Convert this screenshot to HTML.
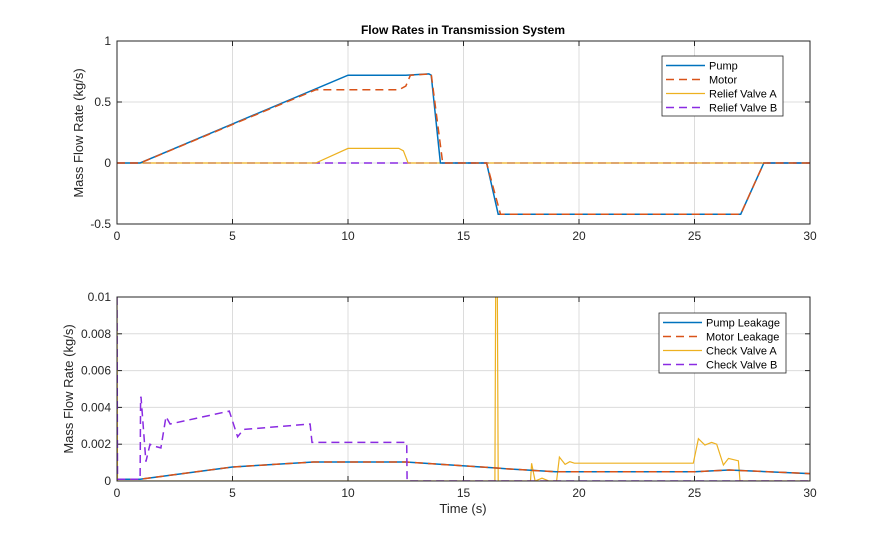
<!DOCTYPE html>
<html><head><meta charset="utf-8">
<style>
body{margin:0;background:#fff;font-family:"Liberation Sans",Arial,sans-serif;}
svg{display:block}
text{font-family:"Liberation Sans",Arial,sans-serif;}
</style></head>
<body>
<svg id="chart" width="895" height="540"></svg>
<script>
// ---- top chart data ----
const pumpT=[0,1,10,12.5,13.5,13.6,14,16,16.5,27,28,30];
const pumpV=[0,0,0.72,0.72,0.73,0.72,0,0,-0.42,-0.42,0,0];
const motorT=[0,1,8.6,12.2,12.5,12.7,13.6,14.1,16,16.6,27,28,30];
const motorV=[0,0,0.6,0.6,0.63,0.72,0.73,0,0,-0.42,-0.42,0,0];
const reliefAT=[0,8.6,10,12.2,12.4,12.6,30];
const reliefAV=[0,0,0.12,0.12,0.1,0,0];
const reliefBT=[0,30];
const reliefBV=[0,0];
const topXTicks=[0,5,10,15,20,25,30];
const topYTicks=[-0.5,0,0.5,1];
const topYLabels=["-0.5","0","0.5","1"];
// ---- bottom chart data ----
const leakT=[0,1,5,8.5,12.5,16.5,17,19,25,26.5,30];
const pumpLeakV=[0.0001,0.0001,0.00076,0.00103,0.00103,0.0007,0.00065,0.0005,0.0005,0.0006,0.0004];
const motorLeakV=[0.0001,0.0001,0.00076,0.00103,0.00103,0.0007,0.00065,0.0005,0.0005,0.0006,0.0004];
const checkAT=[0,0.02,16.36,16.4,16.46,16.5,17.9,17.95,18.1,18.4,18.7,19.03,19.15,19.4,19.6,19.8,24.95,25.17,25.45,25.74,25.96,26.25,26.47,26.9,26.97,30];
const checkAV=[0.01,0,0,0.012,0.012,0,0,0.00096,0,0.00015,0,0,0.0013,0.0009,0.00105,0.00097,0.00097,0.0023,0.00195,0.0021,0.002,0.00087,0.00123,0.0011,0,0];
const checkBT=[0,0.02,1,1.02,1.04,1.25,1.43,1.57,1.9,2.12,2.3,4.86,5.22,5.47,8.36,8.44,12.54,12.56,30];
const checkBV=[0.01,0.0001,0.0001,0.0045,0.00458,0.00105,0.002,0.0019,0.0018,0.0035,0.0031,0.0038,0.0024,0.0028,0.0031,0.0021,0.0021,0,0];
const botXTicks=[0,5,10,15,20,25,30];
const botYTicks=[0,0.002,0.004,0.006,0.008,0.01];
const botYLabels=["0","0.002","0.004","0.006","0.008","0.01"];

const NS="http://www.w3.org/2000/svg";
const svg=document.getElementById('chart');
function el(tag,attrs,parent){const e=document.createElementNS(NS,tag);for(const k in attrs)e.setAttribute(k,attrs[k]);(parent||svg).appendChild(e);return e;}

function makeAxes(L,R,T,B,xmin,xmax,ymin,ymax){
  return {x:v=>L+(v-xmin)/(xmax-xmin)*(R-L), y:v=>B-(v-ymin)/(ymax-ymin)*(B-T), L,R,T,B};
}
const topAx=makeAxes(117,810,41,224,0,30,-0.5,1);
const botAx=makeAxes(117,810,297,481,0,30,0,0.01);

function drawFrame(ax,xt,yt,yl,name){
  const g=el('g',{});
  
  
  el('rect',{x:ax.L,y:ax.T,width:ax.R-ax.L,height:ax.B-ax.T,fill:'#fff'},g);
  xt.forEach(t=>{const x=ax.x(t);
    el('line',{x1:x,x2:x,y1:ax.T,y2:ax.B,stroke:'#dcdcdc','stroke-width':1},g);
    el('line',{x1:x,x2:x,y1:ax.B,y2:ax.B-5,stroke:'#262626'},g);
    el('line',{x1:x,x2:x,y1:ax.T,y2:ax.T+5,stroke:'#262626'},g);
    const tx=el('text',{x:x,y:ax.B+16,'font-size':12,'text-anchor':'middle',fill:'#262626'},g);tx.textContent=t;
    
    
  });
  yt.forEach((t,i)=>{const y=ax.y(t);
    el('line',{x1:ax.L,x2:ax.R,y1:y,y2:y,stroke:'#dcdcdc','stroke-width':1},g);
    el('line',{x1:ax.L,x2:ax.L+5,y1:y,y2:y,stroke:'#262626'},g);
    el('line',{x1:ax.R,x2:ax.R-5,y1:y,y2:y,stroke:'#262626'},g);
    const tx=el('text',{x:ax.L-6,y:y+4,'font-size':12,'text-anchor':'end',fill:'#262626'},g);tx.textContent=yl[i];
    
    
  });
}
function drawLine(ax,ts,vs,color,dash,w,name){
  const clipId='clip-'+name;
  const cp=el('clipPath',{id:clipId});
  el('rect',{x:ax.L,y:ax.T,width:ax.R-ax.L,height:ax.B-ax.T},cp);
  const pts=ts.map((t,i)=>ax.x(t).toFixed(1)+','+ax.y(vs[i]).toFixed(1)).join(' ');
  const p=el('polyline',{points:pts,fill:'none',stroke:color,'stroke-width':w,'clip-path':'url(#'+clipId+')'});
  if(dash)p.setAttribute('stroke-dasharray',dash);
  
  
}
function drawBox(ax){
  const r=el('rect',{x:ax.L,y:ax.T,width:ax.R-ax.L,height:ax.B-ax.T,fill:'none',stroke:'#262626','stroke-width':1});
  
  
}
function legend(x,y,w,entries,name){
  const g=el('g',{});
  
  
  el('rect',{x:x,y:y,width:w,height:60,fill:'#fff',stroke:'#262626','stroke-width':0.8},g);
  entries.forEach((e,i)=>{const yy=y+9.5+i*14;
    const l=el('line',{x1:x+4,x2:x+43,y1:yy,y2:yy,stroke:e[1],'stroke-width':e[3]||1.5},g);
    if(e[2])l.setAttribute('stroke-dasharray',e[2]);
    const t=el('text',{x:x+47,y:yy+4,'font-size':11,fill:'#000'},g);t.textContent=e[0];
    
    
  });
}
const BLUE='#0072BD',ORANGE='#D95319',YEL='#EDB120',PUR='#8A2BE2';

drawFrame(topAx,topXTicks,topYTicks,topYLabels,'top');
drawLine(topAx,reliefBT,reliefBV,PUR,'8,5',1.5,'relief-valve-b-line');
drawLine(topAx,reliefAT,reliefAV,YEL,null,1.2,'relief-valve-a-line');
drawLine(topAx,pumpT,pumpV,BLUE,null,1.5,'pump-line');
drawLine(topAx,motorT,motorV,ORANGE,'8,5',1.5,'motor-line');
drawBox(topAx);
legend(662,56,121,[['Pump',BLUE],['Motor',ORANGE,'8,5'],['Relief Valve A',YEL,null,1.2],['Relief Valve B',PUR,'8,5']],'top-legend');

drawFrame(botAx,botXTicks,botYTicks,botYLabels,'bottom');
drawLine(botAx,checkAT,checkAV,YEL,null,1.2,'check-valve-a-line');
drawLine(botAx,leakT,pumpLeakV,BLUE,null,1.5,'pump-leakage-line');
drawLine(botAx,leakT,motorLeakV,ORANGE,'8,5',1.5,'motor-leakage-line');
drawLine(botAx,checkBT,checkBV,PUR,'8,5',1.5,'check-valve-b-line');
drawBox(botAx);
legend(659,313,127,[['Pump Leakage',BLUE],['Motor Leakage',ORANGE,'8,5'],['Check Valve A',YEL,null,1.2],['Check Valve B',PUR,'8,5']],'bottom-legend');

function label(txt,x,y,size,bold,rot,name){
  const t=el('text',{x:x,y:y,'font-size':size,'text-anchor':'middle',fill:bold?'#000':'#262626'});
  if(bold)t.setAttribute('font-weight','bold');
  if(rot)t.setAttribute('transform','rotate(-90 '+x+' '+y+')');
  t.textContent=txt;
  
  
}
label('Flow Rates in Transmission System',463,34,12,true,false,'chart-title');
label('Mass Flow Rate (kg/s)',83,133,13,false,true,'top-y-axis-title');
label('Mass Flow Rate (kg/s)',73,389,13,false,true,'bottom-y-axis-title');
label('Time (s)',463,513,13,false,false,'x-axis-title');
</script>
</body></html>
